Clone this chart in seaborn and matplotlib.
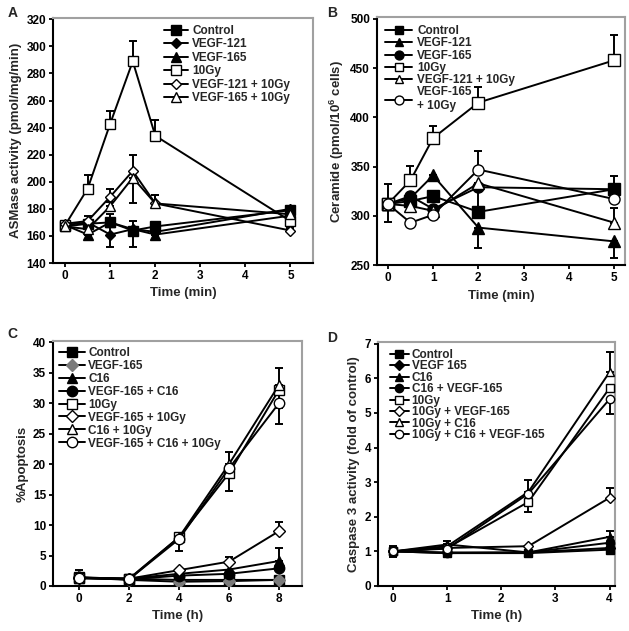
import numpy as np
import pandas as pd
import seaborn as sns
import matplotlib
matplotlib.use("Agg")
import matplotlib.pyplot as plt

sns.set_style("ticks")
plt.rcParams['font.family'] = ['Liberation Sans', 'DejaVu Sans']
plt.rcParams['font.weight'] = 'bold'
plt.rcParams['axes.labelweight'] = 'bold'
plt.rcParams['mathtext.fontset'] = 'custom'
plt.rcParams['mathtext.rm'] = 'Liberation Sans:bold'
plt.rcParams['mathtext.it'] = 'Liberation Sans:bold'
plt.rcParams['mathtext.bf'] = 'Liberation Sans:bold'

# ---------------- Panel A : ASMase activity ----------------
A_time = [0, 0.5, 1, 1.5, 2, 5]
A_labels = ["Control", "VEGF-121", "VEGF-165", "10Gy", "VEGF-121 + 10Gy", "VEGF-165 + 10Gy"]
A_means = [
    [167, 169, 170, 164, 167, 179],
    [168, 170, 161, 165, 163, 180],
    [168, 161, 170, 165, 161, 175],
    [168, 195, 243, 289, 234, 171],
    [169, 171, 189, 208, 184, 164],
    [167, 165, 182, 203, 184, 176],
]
A_err_up = [
    [2, 3, 6, 7, 0, 2],
    [0, 0, 0, 0, 0, 0],
    [0, 0, 0, 0, 0, 0],
    [2, 10, 9, 15, 12, 2],
    [2, 4, 6, 12, 6, 2],
    [2, 3, 3, 0, 6, 2],
]
A_err_down = [
    [2, 0, 10, 12, 0, 0],
    [0, 0, 9, 0, 0, 0],
    [0, 0, 0, 0, 0, 0],
    [0, 0, 0, 0, 0, 0],
    [0, 0, 0, 0, 0, 0],
    [0, 0, 0, 19, 0, 0],
]

# ---------------- Panel B : Ceramide ----------------
B_time = [0, 0.5, 1, 2, 5]
B_labels = ["Control", "VEGF-121", "VEGF-165", "10Gy", "VEGF-121 + 10Gy", "VEGF-165\n+ 10Gy"]
B_means = [
    [312, 315, 320, 304, 327],
    [312, 318, 341, 288, 274],
    [312, 320, 307, 329, 327],
    [312, 336, 379, 415, 458],
    [312, 310, 305, 333, 293],
    [312, 293, 301, 347, 317],
]
B_err_up = [
    [20, 0, 0, 0, 13],
    [0, 0, 0, 0, 0],
    [0, 0, 0, 0, 0],
    [0, 15, 12, 16, 26],
    [0, 0, 0, 0, 15],
    [0, 0, 0, 19, 0],
]
B_err_down = [
    [18, 0, 0, 0, 0],
    [0, 0, 0, 21, 17],
    [0, 0, 0, 25, 0],
    [0, 0, 0, 0, 0],
    [0, 0, 0, 0, 0],
    [0, 0, 0, 0, 0],
]

# ---------------- Panel C : %Apoptosis ----------------
C_time = [0, 2, 4, 6, 8]
C_labels = ["Control", "VEGF-165", "C16", "VEGF-165 + C16", "10Gy",
            "VEGF-165 + 10Gy", "C16 + 10Gy", "VEGF-165 + C16 + 10Gy"]
C_means = [
    [1.4, 1.2, 1.0, 1.0, 1.0],
    [1.4, 1.0, 0.7, 0.8, 1.0],
    [1.4, 1.2, 2.0, 2.7, 4.1],
    [1.4, 1.1, 1.7, 2.0, 2.9],
    [1.3, 1.1, 8.0, 18.5, 32.2],
    [1.3, 1.2, 2.6, 4.0, 9.0],
    [1.3, 1.2, 8.0, 20.0, 33.0],
    [1.3, 1.1, 7.7, 19.3, 30.0],
]
C_err_up = [
    [1.2, 0, 0, 0, 0],
    [0, 0, 0, 0, 0],
    [0, 0, 0, 0, 2.1],
    [0, 0, 0, 0, 0],
    [0, 0, 0, 0, 0],
    [0, 0, 0, 0.8, 1.5],
    [0, 0, 0, 2.0, 2.8],
    [0, 0, 0, 0, 0],
]
C_err_down = [
    [0, 0, 0, 0, 0],
    [0, 0, 0, 0, 0],
    [0, 0, 0, 0, 0],
    [0, 0, 0, 0, 0],
    [0, 0, 2.3, 2.9, 3.0],
    [0, 0, 0, 0, 0],
    [0, 0, 0, 0, 0],
    [0, 0, 0, 0, 3.4],
]

# ---------------- Panel D : Caspase 3 ----------------
D_time = [0, 1, 2.5, 4]
D_labels = ["Control", "VEGF 165", "C16", "C16 + VEGF-165", "10Gy",
            "10Gy + VEGF-165", "10Gy + C16", "10Gy + C16 + VEGF-165"]
D_means = [
    [1.0, 0.95, 0.95, 1.05],
    [1.0, 0.97, 0.97, 1.10],
    [1.0, 1.20, 0.97, 1.42],
    [1.0, 0.95, 0.97, 1.25],
    [1.0, 1.10, 2.43, 5.72],
    [1.0, 1.10, 1.15, 2.55],
    [1.0, 1.15, 2.72, 6.18],
    [1.0, 1.08, 2.67, 5.40],
]
D_err_up = [
    [0.17, 0, 0, 0],
    [0, 0, 0, 0],
    [0, 0.1, 0, 0.18],
    [0, 0, 0, 0],
    [0, 0, 0, 0],
    [0, 0, 0, 0.27],
    [0, 0, 0, 0.57],
    [0, 0, 0.38, 0],
]
D_err_down = [
    [0.17, 0, 0, 0],
    [0, 0, 0, 0],
    [0, 0, 0, 0],
    [0, 0, 0, 0],
    [0, 0, 0.28, 0],
    [0, 0, 0, 0],
    [0, 0, 0, 0],
    [0, 0, 0, 0.42],
]

W, H = 629, 631
fig = plt.figure(figsize=(W / 100, H / 100), dpi=100)


def make_ax(l, r, t, b):
    return fig.add_axes([l / W, 1 - b / H, (r - l) / W, (b - t) / H])


def draw(ax, x, labels, means, up, down, styles, ms, mew):
    for i, label in enumerate(labels):
        marker, face, edge, size_scale = styles[i]
        ax.errorbar(x, means[i], yerr=[down[i], up[i]], fmt='none', ecolor='black',
                    elinewidth=1.4, capsize=2.6, capthick=1.4, zorder=2)
        df = pd.DataFrame({'x': x, 'y': means[i]})
        sns.lineplot(data=df, x='x', y='y', ax=ax, color='black', linewidth=1.4,
                     marker=marker, markersize=ms * size_scale, markerfacecolor=face,
                     markeredgecolor=edge, markeredgewidth=mew, label=label, zorder=3 + i * 0.01)


def style_ax(ax, xlabel, ylabel):
    for s in ['top', 'right']:
        ax.spines[s].set_color('#a0a0a0')
        ax.spines[s].set_linewidth(1.5)
    for s in ['left', 'bottom']:
        ax.spines[s].set_color('black')
        ax.spines[s].set_linewidth(1.5)
    ax.tick_params(direction='out', length=3, width=1.3, labelsize=8.5, pad=2, colors='black')
    ax.set_xlabel(xlabel, fontsize=9.5, fontweight='bold', labelpad=4)
    ax.set_ylabel(ylabel, fontsize=9.5, fontweight='bold', labelpad=3)


K, WH, G = 'black', 'white', '#7a7a7a'

# Panel A
axA = make_ax(53, 313, 18, 263)
stylesA = [('s', K, K, 1.0), ('D', K, K, 0.75), ('^', K, K, 1.0),
           ('s', WH, K, 1.0), ('D', WH, K, 0.8), ('^', WH, K, 1.0)]
draw(axA, A_time, A_labels, A_means, A_err_up, A_err_down, stylesA, 7.0, 1.0)
axA.set_xlim(-0.27, 5.5)
axA.set_ylim(140, 321)
axA.set_xticks([0, 1, 2, 3, 4, 5])
axA.set_yticks(np.arange(140, 321, 20))
style_ax(axA, 'Time (min)', 'ASMase activity (pmol/mg/min)')
axA.legend(loc='upper left', bbox_to_anchor=(0.40, 1.0), frameon=False, fontsize=8.5,
           handlelength=2.0, handletextpad=0.4, labelspacing=0.12, borderaxespad=0.2)

# Panel B
axB = make_ax(377, 625, 17, 265)
stylesB = [('s', K, K, 1.0), ('^', K, K, 1.0), ('o', K, K, 1.0),
           ('s', WH, K, 1.0), ('^', WH, K, 1.0), ('o', WH, K, 1.0)]
draw(axB, B_time, B_labels, B_means, B_err_up, B_err_down, stylesB, 8.0, 1.0)
axB.set_xlim(-0.24, 5.24)
axB.set_ylim(250, 502)
axB.set_xticks([0, 1, 2, 3, 4, 5])
axB.set_yticks(np.arange(250, 501, 50))
style_ax(axB, 'Time (min)', 'Ceramide (pmol/10$^{6}$ cells)')
axB.legend(loc='upper left', bbox_to_anchor=(0.0, 1.0), frameon=False, fontsize=8.5,
           handlelength=2.3, handletextpad=0.4, labelspacing=0.02, borderaxespad=0.3,
           markerscale=0.8)

# Panel C
axC = make_ax(53, 302, 341, 586)
stylesC = [('s', K, K, 1.0), ('D', G, G, 0.8), ('^', K, K, 1.0), ('o', K, K, 1.0),
           ('s', WH, K, 1.0), ('D', WH, K, 0.8), ('^', WH, K, 1.0), ('o', WH, K, 1.0)]
draw(axC, C_time, C_labels, C_means, C_err_up, C_err_down, stylesC, 7.5, 1.0)
axC.set_xlim(-1.04, 8.92)
axC.set_ylim(0, 40.2)
axC.set_xticks([0, 2, 4, 6, 8])
axC.set_yticks(np.arange(0, 41, 5))
style_ax(axC, 'Time (h)', '%Apoptosis')
axC.legend(loc='upper left', bbox_to_anchor=(0.0, 1.0), frameon=False, fontsize=8.5,
           handlelength=2.2, handletextpad=0.3, labelspacing=0.08, borderaxespad=0.1)

# Panel D
axD = make_ax(378, 615, 342, 586)
stylesD = [('s', K, K, 1.0), ('D', K, K, 0.8), ('^', K, K, 1.0), ('o', K, K, 1.0),
           ('s', WH, K, 1.0), ('D', WH, K, 0.8), ('^', WH, K, 1.0), ('o', WH, K, 1.0)]
draw(axD, D_time, D_labels, D_means, D_err_up, D_err_down, stylesD, 6.0, 1.0)
axD.set_xlim(-0.28, 4.1)
axD.set_ylim(0, 7.05)
axD.set_xticks([0, 1, 2, 3, 4])
axD.set_yticks(np.arange(0, 8, 1))
style_ax(axD, 'Time (h)', 'Caspase 3 activity (fold of control)')
axD.legend(loc='upper left', bbox_to_anchor=(0.02, 1.0), frameon=False, fontsize=8.5,
           handlelength=1.6, handletextpad=0.25, labelspacing=-0.05, borderaxespad=0.2)

for txt, (px, py) in {'A': (8, 17), 'B': (327, 17), 'C': (7, 338), 'D': (327, 342)}.items():
    fig.text(px / W, 1 - py / H, txt, fontsize=10, fontweight='bold', ha='left', va='baseline')

fig.savefig('out.png', dpi=100, facecolor='white')
